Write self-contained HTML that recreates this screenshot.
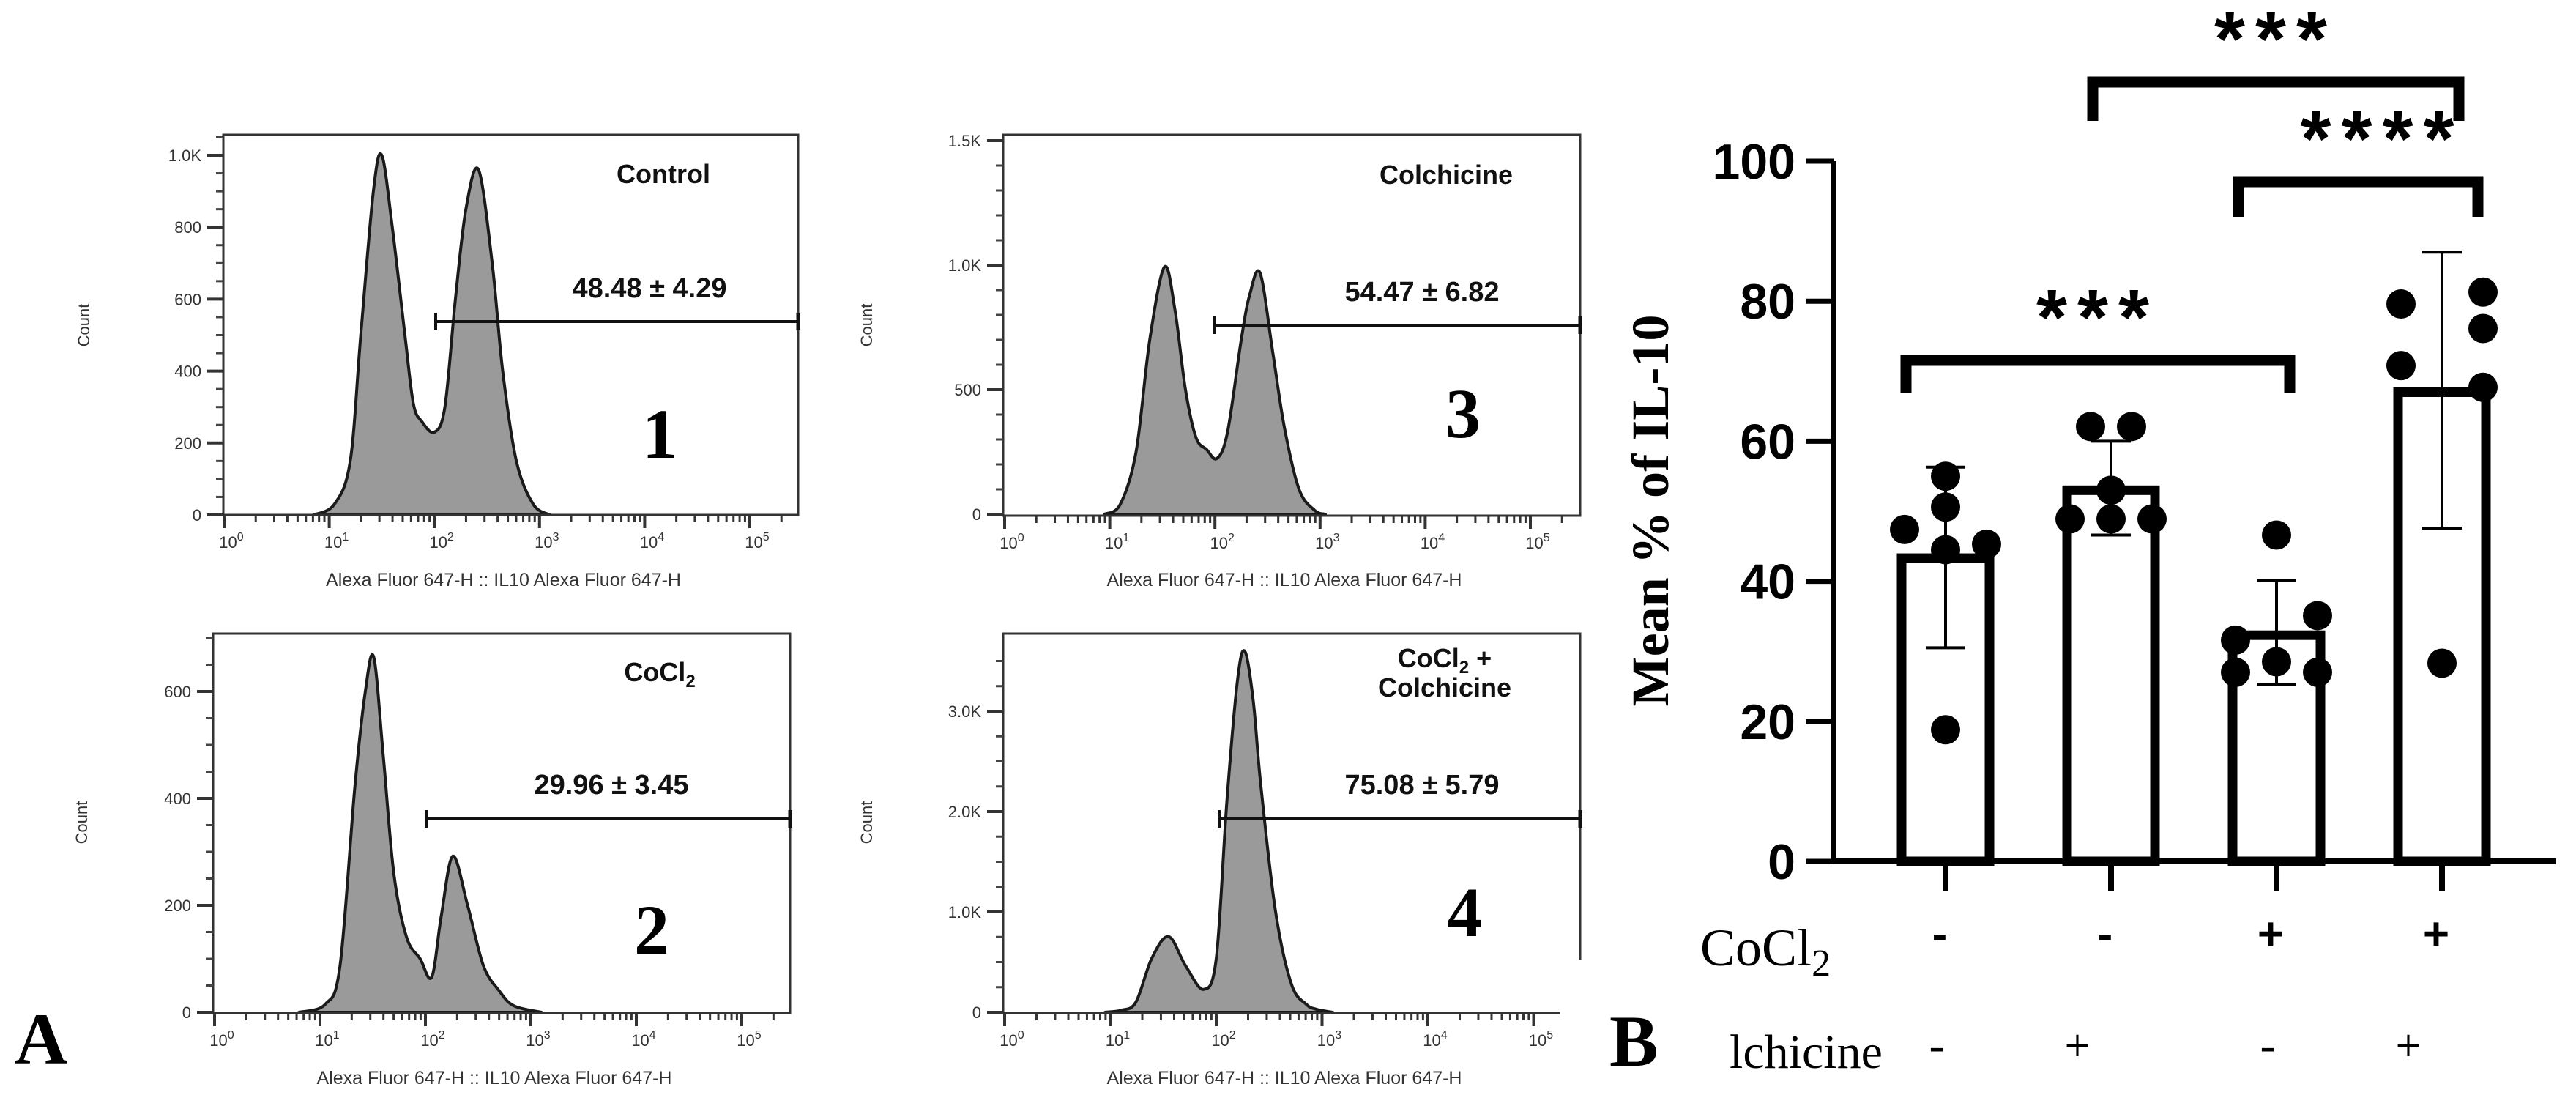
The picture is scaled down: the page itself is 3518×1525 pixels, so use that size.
<!DOCTYPE html>
<html><head><meta charset="utf-8"><style>
html,body{margin:0;padding:0;background:#fff}
svg{display:block}
.tk{font-family:"Liberation Sans",Arial,sans-serif;fill:#333}
</style></head><body>
<svg id="fig" width="3518" height="1525" viewBox="0 0 3518 1525" xmlns="http://www.w3.org/2000/svg">
<rect width="3518" height="1525" fill="#fff"/>
<g id="panelA"></g>
<rect x="2131" y="1310" width="190" height="215" fill="#fff"/>
<g id="panelB"></g>
<text x="20" y="1452" font-family="Liberation Serif,serif" font-weight="bold" font-size="100">A</text>
<text x="2198" y="1455" font-family="Liberation Serif,serif" font-weight="bold" font-size="100">B</text>
</svg>
<script>
// ---------- Panel A histogram data (log10 fluorescence, count) ----------
const h1Log = [0.85,1.05,1.2,1.3,1.42,1.5,1.6,1.72,1.8,1.88,2.0,2.1,2.2,2.3,2.42,2.55,2.65,2.78,2.94,3.1];
const h1Cnt = [0,30,150,500,900,1000,800,500,310,260,230,300,600,850,960,700,400,150,30,0];
const h3Log = [0.95,1.1,1.25,1.38,1.52,1.62,1.72,1.82,1.92,2.02,2.12,2.25,2.33,2.43,2.55,2.66,2.8,2.95,3.05];
const h3Cnt = [0,40,250,700,993,820,500,308,260,224,330,700,880,968,650,350,100,15,0];
const h2Log = [0.8,1.05,1.19,1.33,1.43,1.51,1.6,1.7,1.82,1.95,2.06,2.15,2.26,2.4,2.55,2.7,2.84,3.1];
const h2Cnt = [0,15,87,420,600,664,480,260,141,100,66,180,292,200,87,40,12,0];
const h4Log = [0.95,1.1,1.24,1.39,1.55,1.71,1.88,2.0,2.1,2.2,2.27,2.35,2.42,2.56,2.71,2.85,2.95,3.1];
const h4Cnt = [0,20,100,536,754,464,228,536,2094,3300,3598,3100,2275,1007,282,80,29,0];
const gateVals = ["48.48 ± 4.29","29.96 ± 3.45","54.47 ± 6.82","75.08 ± 5.79"];

// ---------- Panel B data ----------
const categories = ["Control","CoCl2","Colchicine","CoCl2+Colchicine"];
const cocl2Signs = ["-","-","+","+"];
const colchSigns = ["-","+","-","+"];
const means = [43.3,53.0,32.3,67.0];
const errHigh = [56.3,60.0,40.1,87.0];
const errLow = [30.5,46.6,25.3,47.6];
const pts1 = [47.4,55.0,50.6,44.5,45.3,18.8];
const pts2 = [62.1,62.1,53.0,48.9,48.9,48.9];
const pts3 = [46.6,31.6,35.1,27.0,28.5,27.0];
const pts4 = [79.6,81.3,76.1,70.8,67.7,28.3];
const ptsOff1 = [-1,0,0,0,1,0];
const ptsOff2 = [-0.5,0.5,0,-1,0,1];
const ptsOff3 = [0,-1,1,-1,0,1];
const ptsOff4 = [-1,1,1,-1,1,0];
const yTicks = [0,20,40,60,80,100];
const sigPairs = [[0,2],[1,3],[2,3]];
const sigLabels = ["***","***","****"];

const NS="http://www.w3.org/2000/svg";
function mk(parent,tag,attrs,text){const e=document.createElementNS(NS,tag);for(const k in attrs)e.setAttribute(k,attrs[k]);if(text!==undefined)e.textContent=text;parent.appendChild(e);return e;}

function smoothPath(pts){
  let d=`M${pts[0][0]},${pts[0][1]}`;
  for(let i=0;i<pts.length-1;i++){
    const p0=pts[Math.max(0,i-1)],p1=pts[i],p2=pts[i+1],p3=pts[Math.min(pts.length-1,i+2)];
    const c1x=p1[0]+(p2[0]-p0[0])/6,c1y=p1[1]+(p2[1]-p0[1])/6;
    const c2x=p2[0]-(p3[0]-p1[0])/6,c2y=p2[1]-(p3[1]-p1[1])/6;
    d+=` C${c1x},${c1y},${c2x},${c2y},${p2[0]},${p2[1]}`;
  }
  return d;
}

const A=document.getElementById('panelA');
const panels=[
 {L:305,R:1090,T:184,B:703,x0:306,dec:143.6,y0:703,sc:0.491,maj:[0,200,400,600,800,1000],majL:["0","200","400","600","800","1.0K"],minStep:50,yMaxC:1060,logs:h1Log,cnts:h1Cnt,title:"Control",gate:gateVals[0],num:"1",tx:906,ty:250,gy:439,gx:595,gtx:887,gty:406,nx:901,ny:625,cx:122,cy:444,atY:800},
 {L:291,R:1079,T:865,B:1383,x0:293,dec:144,y0:1382,sc:0.73,maj:[0,200,400,600],majL:["0","200","400","600"],minStep:50,yMaxC:700,logs:h2Log,cnts:h2Cnt,title:"CoCl",sub:"2",gate:gateVals[1],num:"2",tx:901,ty:930,gy:1118,gx:582,gtx:835,gty:1084,nx:890,ny:1302,cx:119,cy:1123,atY:1480},
 {L:1370,R:2158,T:184,B:704,x0:1372,dec:143.6,y0:702,sc:0.34,maj:[0,500,1000,1500],majL:["0","500","1.0K","1.5K"],minStep:100,yMaxC:1500,logs:h3Log,cnts:h3Cnt,title:"Colchicine",gate:gateVals[2],num:"3",tx:1975,ty:251,gy:444,gx:1658,gtx:1942,gty:411,nx:1998,ny:597,cx:1191,cy:444,atY:800},
 {L:1370,R:2158,T:865,B:1383,x0:1372,dec:144.5,y0:1382,sc:0.137,maj:[0,1000,2000,3000],majL:["0","1.0K","2.0K","3.0K"],minStep:250,yMaxC:3700,logs:h4Log,cnts:h4Cnt,title:"CoCl",sub:"2",title2:"Colchicine",gate:gateVals[3],num:"4",tx:1973,ty:911,gy:1118,gx:1665,gtx:1942,gty:1084,nx:2000,ny:1278,cx:1191,cy:1123,atY:1480}
];
panels.forEach((p,pi)=>{
  const g=mk(A,'g',{});
  
  
  const xs=l=>p.x0+l*p.dec, ys=c=>p.y0-c*p.sc;
  const pts=p.logs.map((l,i)=>[xs(l),ys(p.cnts[i])]);
  let d=smoothPath(pts)+` L${pts[pts.length-1][0]},${p.y0} L${pts[0][0]},${p.y0} Z`;
  const area=mk(g,'path',{d:d,fill:'#9a9a9a',stroke:'#1a1a1a','stroke-width':4,'stroke-linejoin':'round'});
  
  
  const fr=mk(g,'rect',{x:p.L,y:p.T,width:p.R-p.L,height:p.B-p.T,fill:'none',stroke:'#333','stroke-width':3});
  
  
  for(let c=0;c<=p.yMaxC;c+=p.minStep){const y=ys(c);if(y<p.T)break;mk(g,'line',{x1:p.L-10,x2:p.L,y1:y,y2:y,stroke:'#444','stroke-width':3});}
  p.maj.forEach((c,i)=>{const y=ys(c);mk(g,'line',{x1:p.L-22,x2:p.L,y1:y,y2:y,stroke:'#333','stroke-width':4});
    const t=mk(g,'text',{x:p.L-30,y:y+8,'text-anchor':'end','font-size':22,class:'tk'},p.majL[i]);
    
    });
  for(let dcd=0;dcd<=5;dcd++){
    for(let m=1;m<=9;m++){const l=dcd+Math.log10(m);const x=xs(l);if(x>p.R)break;
      mk(g,'line',{x1:x,x2:x,y1:p.B,y2:p.B+(m===1?18:10),stroke:'#333','stroke-width':m===1?4:3});}
    const t=mk(g,'text',{x:xs(dcd)+10,y:p.B+45,'text-anchor':'middle','font-size':22,class:'tk'});
    
    
    mk(t,'tspan',{},'10');mk(t,'tspan',{dy:-10,'font-size':16},String(dcd));
  }
  const ct=mk(g,'text',{x:p.cx,y:p.cy,'text-anchor':'middle','font-size':22,class:'tk',transform:`rotate(-90 ${p.cx} ${p.cy})`},'Count');
  
  
  const at=mk(g,'text',{x:(p.L+p.R)/2-10,y:p.atY,'text-anchor':'middle','font-size':25,class:'tk'},'Alexa Fluor 647-H :: IL10 Alexa Fluor 647-H');
  
  
  mk(g,'line',{x1:p.gx,x2:p.R,y1:p.gy,y2:p.gy,stroke:'#111','stroke-width':4});
  mk(g,'line',{x1:p.gx,x2:p.gx,y1:p.gy-12,y2:p.gy+12,stroke:'#111','stroke-width':4});
  mk(g,'line',{x1:p.R,x2:p.R,y1:p.gy-12,y2:p.gy+12,stroke:'#111','stroke-width':5});
  const gt=mk(g,'text',{x:p.gtx,y:p.gty,'text-anchor':'middle','font-size':38,'font-weight':'bold','font-family':'Liberation Sans,sans-serif',fill:'#111'},p.gate);
  
  
  const tt=mk(g,'text',{x:p.tx,y:p.ty,'text-anchor':'middle','font-size':36,'font-weight':'bold','font-family':'Liberation Sans,sans-serif',fill:'#111'});
  
  
  mk(tt,'tspan',{},p.title);
  if(p.sub){mk(tt,'tspan',{dy:8,'font-size':24},p.sub);if(p.title2){mk(tt,'tspan',{dy:-8},' +');}}
  if(p.title2){const t2=mk(g,'text',{x:p.tx,y:p.ty+40,'text-anchor':'middle','font-size':36,'font-weight':'bold','font-family':'Liberation Sans,sans-serif',fill:'#111'},p.title2);
    
    }
  const nt=mk(g,'text',{x:p.nx,y:p.ny,'text-anchor':'middle','font-size':96,'font-weight':'bold','font-family':'Liberation Serif,serif',fill:'#000'},p.num);
  
  
});

// ---------- Panel B ----------
const Bg=document.getElementById('panelB');
const AX=2504, Y0=1176, Y100=220, XEND=3491, C0=2657, STEP=226, BW=132, DOFF=56;
const yB=v=>Y0+(Y100-Y0)*v/100;
const xB=i=>C0+i*STEP;
const allPts=[pts1,pts2,pts3,pts4], allOff=[ptsOff1,ptsOff2,ptsOff3,ptsOff4];
categories.forEach((c,i)=>{
  const bar=mk(Bg,'rect',{x:xB(i)-BW/2+6,y:yB(means[i]),width:BW-12,height:Y0-yB(means[i]),fill:'#fff',stroke:'#000','stroke-width':13});
  
  
});
categories.forEach((c,i)=>{
  allPts[i].forEach((v,j)=>{
    const dot=mk(Bg,'circle',{cx:xB(i)+allOff[i][j]*DOFF,cy:yB(v),r:20,fill:'#000'});
    
    
  });
  const eb=mk(Bg,'g',{stroke:'#000','stroke-width':4});
  
  
  mk(eb,'line',{x1:xB(i),x2:xB(i),y1:yB(errHigh[i]),y2:yB(errLow[i])});
  mk(eb,'line',{x1:xB(i)-27,x2:xB(i)+27,y1:yB(errHigh[i]),y2:yB(errHigh[i])});
  mk(eb,'line',{x1:xB(i)-27,x2:xB(i)+27,y1:yB(errLow[i]),y2:yB(errLow[i])});
  mk(Bg,'line',{x1:xB(i),x2:xB(i),y1:Y0,y2:Y0+40,stroke:'#000','stroke-width':8});
  const s1=mk(Bg,'text',{x:xB(i)-8,y:1296,'text-anchor':'middle','font-size':62,'font-weight':'bold','font-family':'Liberation Sans,sans-serif'},cocl2Signs[i]);
  
  
  const s2=mk(Bg,'text',{x:xB(i)-(colchSigns[i]==='+'?46:12),y:1448,'text-anchor':'middle','font-size':62,'font-family':'Liberation Serif,serif'},colchSigns[i]);
  
  
});
const ax=mk(Bg,'path',{d:`M${AX},${Y100} L${AX},${Y0} L${XEND},${Y0}`,fill:'none',stroke:'#000','stroke-width':8});


yTicks.forEach(v=>{
  mk(Bg,'line',{x1:AX-38,x2:AX,y1:yB(v),y2:yB(v),stroke:'#000','stroke-width':7});
  const t=mk(Bg,'text',{x:AX-52,y:yB(v)+24,'text-anchor':'end','font-size':68,'font-weight':'bold','font-family':'Liberation Sans,sans-serif'},String(v));
  
  
});
const yt=mk(Bg,'text',{x:2278,y:697,'text-anchor':'middle','font-size':72,'font-weight':'bold','font-family':'Liberation Serif,serif',textLength:535,lengthAdjust:'spacingAndGlyphs',transform:'rotate(-90 2278 697)'},'Mean % of IL-10');


const brY=[492,112,248], brDrop=[44,53,48];
const brXa=[2603,2858,3057], brXb=[3127,3358,3384];
sigPairs.forEach((pr,k)=>{
  const xa=brXa[k], xb=brXb[k];
  const br=mk(Bg,'path',{d:`M${xa},${brY[k]+brDrop[k]} L${xa},${brY[k]} L${xb},${brY[k]} L${xb},${brY[k]+brDrop[k]}`,fill:'none',stroke:'#000','stroke-width':15});
  
  
  const st=mk(Bg,'text',{x:(xa+xb)/2+(k===2?33:0),y:brY[k]-22,'text-anchor':'middle','font-size':108,'font-weight':'bold','font-family':'Liberation Sans,sans-serif','letter-spacing':14},sigLabels[k]);
  
  
});
const r1=mk(Bg,'text',{x:2322,y:1318,'font-size':72,'font-family':'Liberation Serif,serif'});


mk(r1,'tspan',{},'CoCl');mk(r1,'tspan',{dy:14,'font-size':52},'2');
const r2=mk(Bg,'text',{x:2362,y:1458,'font-size':66,'font-family':'Liberation Serif,serif'},'lchicine');


</script>
</body></html>
